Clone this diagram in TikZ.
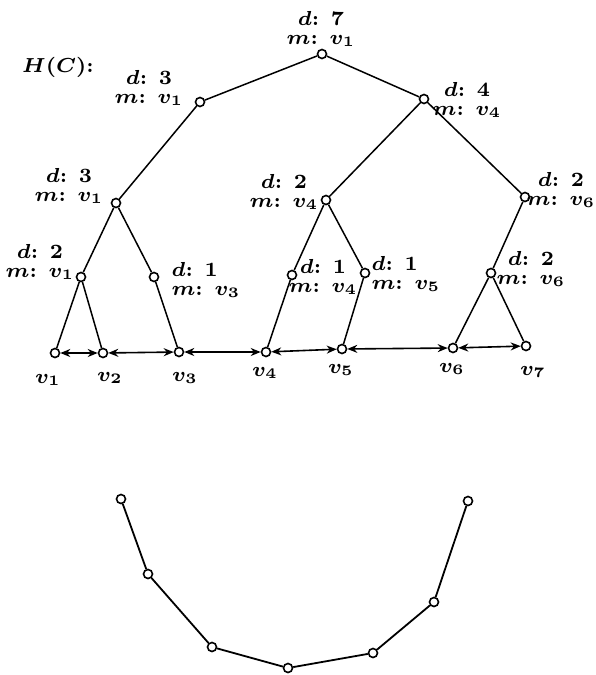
\documentclass[tikz,border=0pt]{standalone}
\usepackage{amsmath,amssymb}
\usetikzlibrary{arrows.meta}

\tikzset{
  vtx/.style={circle, draw, line width=1.6pt, inner sep=0pt, minimum size=9pt, fill=white},
  lbl/.style={font=\fontsize{7}{6.5}\selectfont\bfseries\boldmath, scale=2.9, align=center, inner sep=0pt},
  lbll/.style={lbl, align=left},
  link/.style={line width=1.5pt},
  nbr/.style={line width=1.6pt, {Stealth[length=10pt,width=8pt]}-{Stealth[length=10pt,width=8pt]}}
}

\begin{document}
\begin{tikzpicture}[x=1pt,y=-1pt]
\useasboundingbox (0,0) rectangle (595,675);

% hierarchy H(C)
\node[lbl] (title) at (58,67) {$H(C)$:};

\node[vtx] (root) at (322,54) {};
\node[vtx] (a) at (200,102) {};
\node[vtx] (b) at (424,99) {};
\node[vtx] (c) at (116,203) {};
\node[vtx] (d) at (326,200) {};
\node[vtx] (e) at (525,197) {};
\node[vtx] (f) at (81,277) {};
\node[vtx] (g) at (154,277) {};
\node[vtx] (h) at (292,275) {};
\node[vtx] (i) at (365,273) {};
\node[vtx] (j) at (491,273) {};

% leaves
\node[vtx] (v1) at (55,353) {};
\node[vtx] (v2) at (103,353) {};
\node[vtx] (v3) at (179,352) {};
\node[vtx] (v4) at (266,352) {};
\node[vtx] (v5) at (342,349) {};
\node[vtx] (v6) at (453,348) {};
\node[vtx] (v7) at (526,346) {};

\node[lbl] (lv1) at (48,380) {$v_1$};
\node[lbl] (lv2) at (110,378) {$v_2$};
\node[lbl] (lv3) at (185,378) {$v_3$};
\node[lbl] (lv4) at (265,373) {$v_4$};
\node[lbl] (lv5) at (341,370) {$v_5$};
\node[lbl] (lv6) at (452,369) {$v_6$};
\node[lbl] (lv7) at (533,372) {$v_7$};

% node data
\node[lbl] (lroot) at (321,29) {$d$: 7\\$m$: $v_1$};
\node[lbl] (la) at (149,88) {$d$: 3\\$m$: $v_1$};
\node[lbl] (lb) at (467,100) {$d$: 4\\$m$: $v_4$};
\node[lbl] (lc) at (69,186) {$d$: 3\\$m$: $v_1$};
\node[lbl] (ld) at (284,192) {$d$: 2\\$m$: $v_4$};
\node[lbl] (le) at (561,190) {$d$: 2\\$m$: $v_6$};
\node[lbl] (lf) at (40,262) {$d$: 2\\$m$: $v_1$};
\node[lbll, anchor=west] (lg) at (171,280) {$d$: 1\\$m$: $v_3$};
\node[lbl] (lh) at (323,277) {$d$: 1\\$m$: $v_4$};
\node[lbll, anchor=west] (li) at (371,274) {$d$: 1\\$m$: $v_5$};
\node[lbl] (lj) at (531,269) {$d$: 2\\$m$: $v_6$};

% tree edges
\draw[link] (root) -- (a);
\draw[link] (root) -- (b);
\draw[link] (a) -- (c);
\draw[link] (c) -- (f);
\draw[link] (c) -- (g);
\draw[link] (f) -- (v1);
\draw[link] (f) -- (v2);
\draw[link] (g) -- (v3);
\draw[link] (b) -- (d);
\draw[link] (b) -- (e);
\draw[link] (d) -- (h);
\draw[link] (d) -- (i);
\draw[link] (h) -- (v4);
\draw[link] (i) -- (v5);
\draw[link] (e) -- (j);
\draw[link] (j) -- (v6);
\draw[link] (j) -- (v7);

% neighbour links between leaves
\foreach \s/\t in {v1/v2,v2/v3,v3/v4,v4/v5,v5/v6,v6/v7}{
  \draw[nbr] (\s) -- (\t);
}

% chain
\node[vtx] (c1) at (121,499) {};
\node[vtx] (c2) at (148,574) {};
\node[vtx] (c3) at (212,647) {};
\node[vtx] (c4) at (288,668) {};
\node[vtx] (c5) at (373,653) {};
\node[vtx] (c6) at (434,602) {};
\node[vtx] (c7) at (468,501) {};

\foreach \s/\t in {c1/c2,c2/c3,c3/c4,c4/c5,c5/c6,c6/c7}{
  \draw[link, line width=1.8pt] (\s) -- (\t);
}

\end{tikzpicture}
\end{document}
